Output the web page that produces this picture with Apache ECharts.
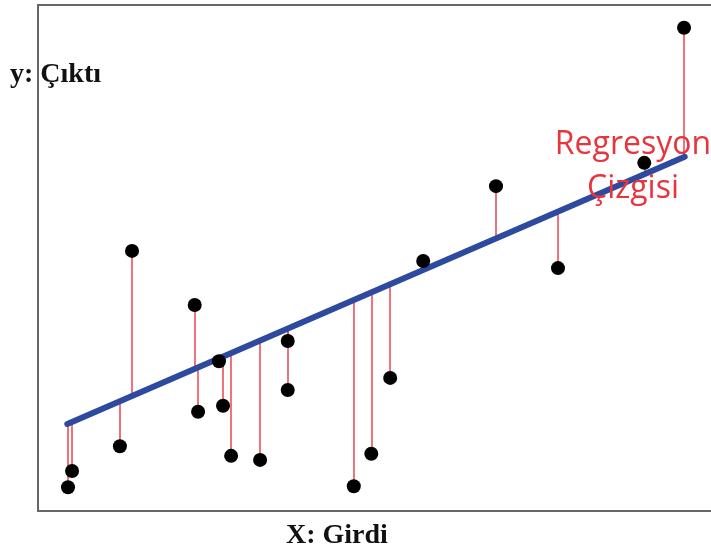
<!DOCTYPE html>
<html>
<head>
<meta charset="utf-8">
<script src="https://cdn.jsdelivr.net/npm/echarts@6/dist/echarts.min.js"></script>
<style>html,body{margin:0;padding:0;background:#fff}#c{width:711px;height:551px}</style>
</head>
<body>
<div id="c"></div>
<script>
// Observed points (x: input, y: output)
var pointX = [4.6, 5.2, 12.3, 14.1, 23.4, 23.9, 27.0, 27.6, 28.8, 33.1, 37.2, 37.2, 47.0, 49.6, 52.4, 57.3, 68.1, 77.3, 90.1, 96.0];
var pointY = [4.7, 7.9, 12.8, 51.4, 40.7, 19.6, 29.6, 20.8, 10.9, 10.1, 33.6, 23.9, 4.9, 11.3, 26.3, 49.4, 64.2, 48.0, 68.8, 95.5];
// Where each residual meets the regression line
var fittedY = [17.3, 17.6, 21.7, 22.7, 28.1, 28.4, 30.2, 30.5, 31.2, 33.7, 36.1, 36.1, 41.7, 43.1, 44.8, 47.6, 53.8, 59.1, 66.5, 69.9];
// Regression line end points
var lineX = [4.5, 96.1];
var lineY = [17.2, 70.0];

var yLabel = 'y: Çıktı';
var xLabel = 'X: Girdi';
var lineLabel = 'Regresyon\nÇizgisi';

var chart = echarts.init(document.getElementById('c'), null, {renderer: 'canvas'});

var scatterData = pointX.map(function (x, i) { return [x, pointY[i]]; });
var residData = pointX.map(function (x, i) { return {coords: [[x, pointY[i]], [x, fittedY[i]]]}; });
var regData = lineX.map(function (x, i) { return [x, lineY[i]]; });

chart.setOption({
  animation: false,
  backgroundColor: '#ffffff',
  grid: {left: 37, top: 5, right: 0, height: 506, show: false},
  xAxis: {type: 'value', min: 0, max: 100, show: false},
  yAxis: {type: 'value', min: 0, max: 100, show: false},
  series: [
    {type: 'lines', coordinateSystem: 'cartesian2d', data: residData, z: 2,
     lineStyle: {color: '#e8454f', width: 1.5, opacity: 1}, silent: true},
    {type: 'line', data: regData, showSymbol: false, z: 3,
     lineStyle: {color: '#2e4a9e', width: 6, cap: 'round'}, silent: true},
    {type: 'scatter', data: scatterData, symbol: 'circle', symbolSize: 14, z: 4,
     itemStyle: {color: '#000000', opacity: 1}, silent: true}
  ],
  graphic: [
    {type: 'polyline', z: 1, silent: true,
     shape: {points: [[711, 5], [38, 5], [38, 511], [711, 511]]},
     style: {stroke: '#666666', lineWidth: 2, fill: null}},
    {type: 'text', x: 10, y: 61, z: 10,
     style: {text: yLabel, font: 'bold 28px "Liberation Serif", "DejaVu Serif", serif', fill: '#111'}},
    {type: 'text', x: 286, y: 522, z: 10,
     style: {text: xLabel, font: 'bold 28px "Liberation Serif", "DejaVu Serif", serif', fill: '#111'}},
    {type: 'text', x: 633, y: 123, z: 10,
     style: {text: lineLabel, font: '32px "Open Sans", "Noto Sans", sans-serif', fill: '#e8343c', align: 'center', lineHeight: 44}}
  ]
});
</script>
</body>
</html>
